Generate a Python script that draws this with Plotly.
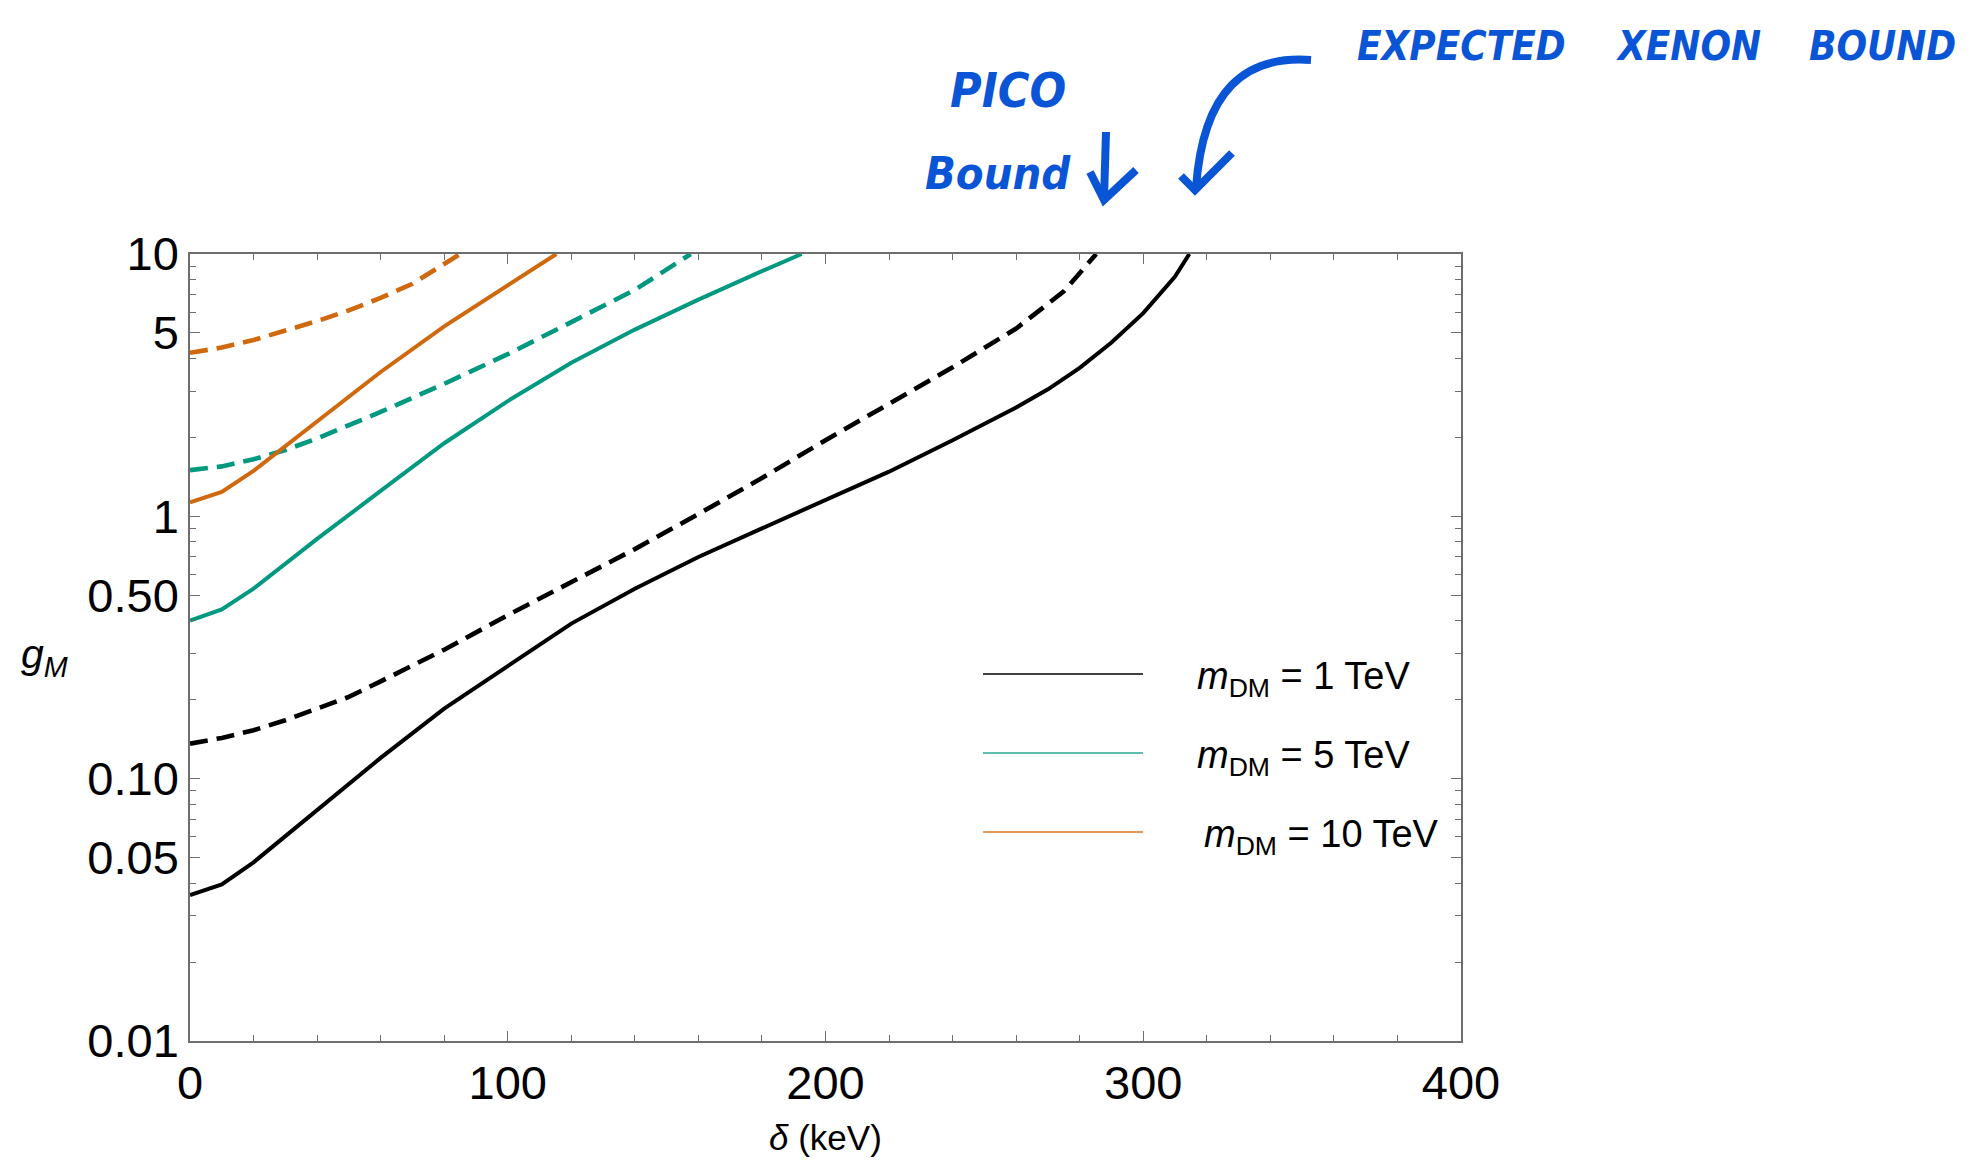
import plotly.graph_objects as go

# ---- data: coupling bound g_M versus mass splitting delta (keV) ----
delta_1tev = [0, 10, 20, 40, 60, 80, 100, 120, 140, 160, 180, 200, 220, 240, 260, 270, 280, 290, 300, 310, 314.5]
g_1tev = [0.036, 0.0395, 0.048, 0.076, 0.12, 0.185, 0.27, 0.39, 0.53, 0.70, 0.90, 1.15, 1.48, 1.95, 2.6, 3.05, 3.68, 4.6, 5.95, 8.2, 10]

delta_1tev_dash = [0, 10, 20, 30, 40, 50, 60, 80, 100, 120, 140, 160, 180, 200, 220, 240, 260, 275, 285.2]
g_1tev_dash = [0.136, 0.143, 0.153, 0.167, 0.185, 0.205, 0.235, 0.31, 0.42, 0.56, 0.75, 1.02, 1.4, 1.95, 2.7, 3.7, 5.2, 7.2, 10]

delta_5tev = [0, 10, 20, 30, 40, 60, 80, 100, 120, 140, 160, 180, 192.5]
g_5tev = [0.40, 0.442, 0.53, 0.66, 0.82, 1.25, 1.9, 2.75, 3.85, 5.15, 6.7, 8.6, 10]

delta_5tev_dash = [0, 10, 20, 30, 40, 60, 80, 100, 120, 140, 157.6]
g_5tev_dash = [1.50, 1.55, 1.65, 1.79, 1.98, 2.50, 3.2, 4.15, 5.5, 7.3, 10]

delta_10tev = [0, 10, 20, 30, 40, 60, 80, 100, 115.3]
g_10tev = [1.13, 1.24, 1.49, 1.85, 2.3, 3.55, 5.3, 7.6, 10]

delta_10tev_dash = [0, 10, 20, 30, 40, 50, 60, 70, 85]
g_10tev_dash = [4.2, 4.4, 4.7, 5.1, 5.55, 6.1, 6.8, 7.7, 10]

legend_labels = ["<i>m</i><sub>DM</sub> = 1 TeV",
                 "<i>m</i><sub>DM</sub> = 5 TeV",
                 "<i>m</i><sub>DM</sub> = 10 TeV"]

x_ticks = [0, 100, 200, 300, 400]
x_minor = [v for v in range(20, 400, 20) if v % 100 != 0]
y_ticks = [0.01, 0.05, 0.1, 0.5, 1, 5, 10]
y_ticktext = ["0.01", "0.05", "0.10", "0.50", "1", "5", "10"]
y_minor = [d * 10 ** e for e in (-2, -1, 0) for d in (2, 3, 4, 6, 7, 8, 9)]

BLACK = "#000000"
TEAL = "#00997f"
ORANGE = "#d0680e"
TEAL_KEY = "#2aa892"
ORANGE_KEY = "#e5731c"
INK = "#0a55d6"
FONT = "Liberation Sans, Arial, Helvetica, sans-serif"
HAND = "Liberation Sans Narrow, DejaVu Sans Condensed, Roboto Condensed, Liberation Sans, sans-serif"

W, H = 1973, 1161
L, R, T, B = 190, 512, 254, 120
PW, PH = W - L - R, H - T - B


def px(X):
    return (X - L) / PW


def py(Y):
    return (H - B - Y) / PH


fig = go.Figure()

series = [
    (delta_1tev_dash, g_1tev_dash, BLACK, "dash"),
    (delta_1tev, g_1tev, BLACK, "solid"),
    (delta_5tev_dash, g_5tev_dash, TEAL, "dash"),
    (delta_5tev, g_5tev, TEAL, "solid"),
    (delta_10tev_dash, g_10tev_dash, ORANGE, "dash"),
    (delta_10tev, g_10tev, ORANGE, "solid"),
]
for xs, ys, col, style in series:
    fig.add_trace(go.Scatter(
        x=xs, y=ys, mode="lines",
        line=dict(color=col, width=4.6 if style == "dash" else 4.0,
                  dash="18px,9px" if style == "dash" else "solid"),
        showlegend=False, hoverinfo="skip",
    ))

axis_common = dict(
    showline=True, linecolor="#6e6e6e", linewidth=1.6, mirror="ticks",
    ticks="inside", ticklen=10, tickwidth=1.4, tickcolor="#6e6e6e",
    showgrid=False, zeroline=False,
    tickfont=dict(family=FONT, size=47, color="black"),
)

fig.update_xaxes(
    range=[0, 400], tickvals=x_ticks,
    minor=dict(tickvals=x_minor, ticks="inside", ticklen=6, tickwidth=1.2,
               tickcolor="#6e6e6e", showgrid=False),
    **axis_common,
)
fig.update_yaxes(
    type="log", range=[-2, 1], tickvals=y_ticks, ticktext=y_ticktext,
    minor=dict(tickvals=y_minor, ticks="inside", ticklen=6, tickwidth=1.2,
               tickcolor="#6e6e6e", showgrid=False),
    **axis_common,
)

annotations = []
shapes = []

# axis titles
annotations.append(dict(xref="paper", yref="paper", x=0.5, y=py(1137),
                        xanchor="center", yanchor="middle", showarrow=False,
                        text="<i>δ</i> (keV)",
                        font=dict(family=FONT, size=35, color="black")))
annotations.append(dict(xref="paper", yref="paper", x=px(44), y=py(657),
                        xanchor="center", yanchor="middle", showarrow=False,
                        text="<i>g</i><sub><i>M</i></sub>",
                        font=dict(family=FONT, size=41, color="black")))

# legend
key_colors = [BLACK, TEAL_KEY, ORANGE_KEY]
key_rows = [674, 753, 832]
key_text_x = [1195, 1195, 1202]
for lab, col, yr, xt in zip(legend_labels, key_colors, key_rows, key_text_x):
    shapes.append(dict(type="line", xref="paper", yref="paper",
                       x0=px(983), x1=px(1143), y0=py(yr), y1=py(yr),
                       line=dict(color=col, width=1.6)))
    annotations.append(dict(xref="paper", yref="paper", x=px(xt), y=py(yr + 5),
                            xanchor="left", yanchor="middle", showarrow=False,
                            text=lab, font=dict(family=FONT, size=38, color="black")))

# handwritten notes
for txt, X, Y, sz in [("PICO", 1008, 90, 48), ("Bound", 998, 173, 45),
                      ("EXPECTED", 1461, 46, 40), ("XENON", 1688, 46, 40),
                      ("BOUND", 1882, 46, 40)]:
    annotations.append(dict(xref="paper", yref="paper", x=px(X), y=py(Y),
                            xanchor="center", yanchor="middle", showarrow=False,
                            text=txt,
                            font=dict(family=HAND, size=sz, color=INK,
                                      weight="bold", style="italic")))

ink_line = dict(color=INK, width=8)
# short arrow below PICO
shapes.append(dict(type="path", xref="paper", yref="paper",
                   path=f"M {px(1106)},{py(132)} L {px(1104)},{py(199)}",
                   line=ink_line))
shapes.append(dict(type="path", xref="paper", yref="paper",
                   path=f"M {px(1090)},{py(172)} L {px(1104)},{py(200)} L {px(1136)},{py(170)}",
                   line=ink_line))
# curved arrow from the xenon note
shapes.append(dict(type="path", xref="paper", yref="paper",
                   path=(f"M {px(1311)},{py(60)} C {px(1245)},{py(55)} "
                         f"{px(1203)},{py(90)} {px(1196)},{py(188)}"),
                   line=ink_line))
shapes.append(dict(type="path", xref="paper", yref="paper",
                   path=f"M {px(1181)},{py(176)} L {px(1195)},{py(190)} L {px(1232)},{py(153)}",
                   line=ink_line))

fig.update_layout(
    width=W, height=H, autosize=False,
    margin=dict(l=L, r=R, t=T, b=B),
    paper_bgcolor="white", plot_bgcolor="white",
    showlegend=False,
    annotations=annotations, shapes=shapes,
)

fig.write_html("out.html")
